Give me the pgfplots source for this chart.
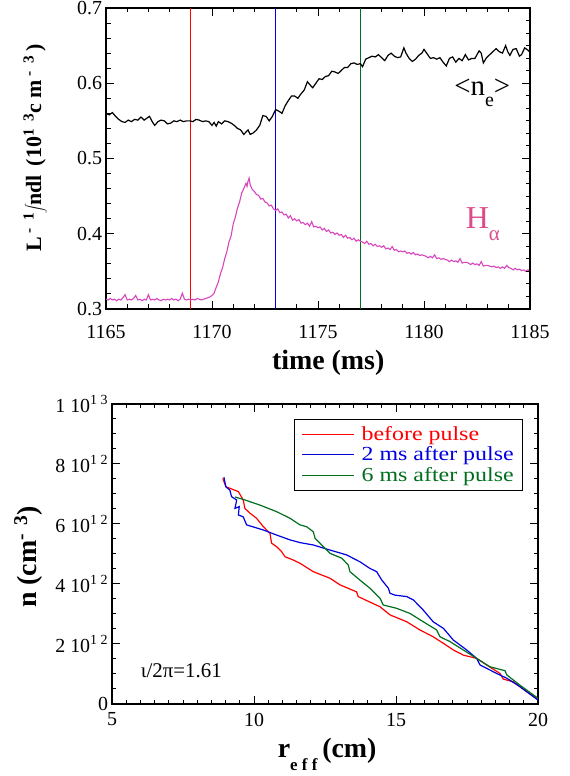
\documentclass[border=0pt]{standalone}
\usepackage{pgfplots}
\pgfplotsset{compat=1.18}
\usepackage{fontspec}
\setmainfont{Liberation Serif}
\definecolor{myred}{RGB}{255,0,0}
\definecolor{myblue}{RGB}{0,0,225}
\definecolor{mygreen}{RGB}{0,110,30}
\definecolor{mypink}{RGB}{215,70,190}
\definecolor{hacol}{RGB}{222,75,140}
\newcommand{\legtxt}[1]{\hspace{5bp}\scalebox{1.2}[1]{#1}}
\begin{document}
\begin{tikzpicture}
\useasboundingbox (0,0) rectangle (570bp,776bp);
\pgfplotsset{
  every axis/.append style={
    scale only axis,
    line width=1.1bp,
    tick style={line width=1bp,black},
    major tick length=8bp,
    minor tick length=4.5bp,
    tick label style={font=\fontsize{20}{24}\selectfont},
    /pgf/number format/assume math mode=true,
    /pgf/number format/1000 sep={},
  }
}
% ---------------- top panel ----------------
\begin{axis}[
  at={(106bp,467bp)}, anchor=south west,
  width=424bp, height=301bp,
  xmin=1165, xmax=1185, ymin=0.3, ymax=0.7,
  xtick={1165,1170,1175,1180,1185},
  minor x tick num=4,
  ytick={0.3,0.4,0.5,0.6,0.7},
  yticklabel style={/pgf/number format/fixed,/pgf/number format/precision=1},
  minor y tick num=4,
  ytick pos=left,
  xticklabel style={yshift=-12bp},
  xlabel={\textbf{time (ms)}},
  xlabel style={font=\fontsize{28}{30}\selectfont, at={(axis description cs:0.524,-0.179)}, anchor=center},
  ylabel={\textbf{L\,\textsuperscript{-\ \ 1}\hspace{-1bp}$\displaystyle\int$\hspace{-2bp}ndl\ \,(10\textsuperscript{1\ \ 3}c\ m\textsuperscript{\ -\ \ 3}\,)}},
  ylabel style={font=\fontsize{22}{24}\selectfont, at={(axis description cs:-0.167,0.535)}, anchor=center, rotate=0},
  clip=true,
]
\addplot[draw=myred, line width=1bp] coordinates {(1169,0.3) (1169,0.7)};
\addplot[draw=myblue, line width=1bp] coordinates {(1173,0.3) (1173,0.7)};
\addplot[draw=mygreen, line width=1bp] coordinates {(1177,0.3) (1177,0.7)};
\addplot[draw=black, line width=1.2bp] table {
1165.0 0.560
1165.15 0.558
1165.3 0.561
1165.45 0.556
1165.6 0.552
1165.75 0.549
1165.9 0.548
1166.05 0.551
1166.2 0.549
1166.35 0.552
1166.5 0.551
1166.65 0.555
1166.8 0.551
1166.95 0.554
1167.05 0.556
1167.2 0.548
1167.3 0.544
1167.45 0.549
1167.6 0.551
1167.75 0.550
1167.9 0.546
1168.05 0.547
1168.2 0.550
1168.35 0.549
1168.5 0.551
1168.65 0.549
1168.8 0.550
1168.95 0.550
1169.1 0.549
1169.25 0.552
1169.4 0.551
1169.55 0.549
1169.7 0.550
1169.85 0.549
1170.0 0.544
1170.1 0.548
1170.2 0.543
1170.3 0.549
1170.45 0.546
1170.6 0.550
1170.75 0.549
1170.9 0.547
1171.05 0.544
1171.2 0.540
1171.35 0.538
1171.5 0.532
1171.6 0.535
1171.7 0.538
1171.8 0.532
1171.95 0.534
1172.1 0.538
1172.25 0.544
1172.4 0.557
1172.55 0.556
1172.7 0.550
1172.85 0.556
1173.0 0.565
1173.15 0.563
1173.3 0.560
1173.45 0.570
1173.6 0.577
1173.75 0.583
1173.9 0.583
1174.05 0.580
1174.2 0.586
1174.35 0.591
1174.5 0.602
1174.65 0.597
1174.75 0.594
1174.9 0.600
1175.05 0.606
1175.2 0.605
1175.35 0.609
1175.5 0.610
1175.65 0.616
1175.8 0.615
1175.95 0.613
1176.1 0.617
1176.25 0.621
1176.4 0.621
1176.55 0.626
1176.7 0.627
1176.85 0.625
1177.0 0.626
1177.1 0.622
1177.25 0.632
1177.4 0.634
1177.55 0.636
1177.7 0.635
1177.85 0.638
1178.0 0.634
1178.15 0.630
1178.3 0.637
1178.45 0.640
1178.6 0.636
1178.75 0.634
1178.9 0.635
1179.05 0.647
1179.15 0.640
1179.3 0.633
1179.45 0.629
1179.6 0.632
1179.75 0.637
1179.9 0.640
1180.0 0.645
1180.15 0.639
1180.3 0.633
1180.45 0.634
1180.6 0.632
1180.75 0.634
1180.9 0.628
1181.05 0.623
1181.2 0.633
1181.35 0.635
1181.5 0.628
1181.65 0.633
1181.8 0.630
1181.95 0.638
1182.1 0.631
1182.25 0.633
1182.4 0.633
1182.6 0.643
1182.7 0.640
1182.8 0.627
1182.95 0.634
1183.1 0.638
1183.25 0.642
1183.4 0.646
1183.55 0.642
1183.7 0.640
1183.85 0.650
1183.95 0.642
1184.05 0.637
1184.2 0.645
1184.35 0.646
1184.5 0.636
1184.6 0.638
1184.75 0.647
1184.9 0.644
1185.0 0.641
};
\addplot[draw=mypink, line width=1.1bp] table {
1165.0 .313
1165.1 .312
1165.2 .314
1165.3 .312
1165.4 .313
1165.5 .311
1165.6 .313
1165.7 .312
1165.8 .315
1165.9 .319
1166.0 .312
1166.1 .313
1166.2 .312
1166.3 .314
1166.4 .318
1166.5 .312
1166.6 .313
1166.7 .311
1166.8 .313
1166.9 .312
1167.0 .319
1167.1 .312
1167.2 .313
1167.3 .312
1167.4 .314
1167.5 .312
1167.6 .311
1167.7 .313
1167.8 .312
1167.9 .313
1168.0 .312
1168.1 .314
1168.2 .312
1168.3 .313
1168.4 .311
1168.5 .313
1168.6 .321
1168.7 .313
1168.8 .312
1168.9 .313
1169.0 .312
1169.1 .313
1169.2 .312
1169.3 .314
1169.4 .313
1169.5 .312
1169.6 .313
1169.7 .314
1169.8 .315
1169.9 .316
1170.0 .318
1170.1 .321
1170.2 .329
1170.3 .336
1170.4 .347
1170.5 .355
1170.6 .367
1170.7 .376
1170.8 .389
1170.9 .397
1171.0 .413
1171.1 .422
1171.2 .434
1171.3 .442
1171.4 .454
1171.5 .460
1171.6 .467
1171.65 .463
1171.7 .470
1171.75 .474
1171.8 .465
1171.9 .459
1172.0 .456
1172.1 .452
1172.2 .451
1172.3 .446
1172.4 .447
1172.5 .442
1172.6 .441
1172.7 .437
1172.8 .438
1172.9 .433
1173.0 .431
1173.1 .433
1173.2 .428
1173.3 .429
1173.4 .425
1173.5 .426
1173.6 .421
1173.7 .424
1173.8 .418
1173.9 .420
1174.0 .417
1174.1 .419
1174.2 .414
1174.3 .415
1174.4 .412
1174.5 .414
1174.6 .410
1174.7 .416
1174.8 .409
1174.9 .410
1175.0 .408
1175.1 .409
1175.2 .405
1175.3 .407
1175.4 .403
1175.5 .405
1175.6 .401
1175.7 .402
1175.8 .399
1175.9 .401
1176.0 .398
1176.1 .399
1176.2 .395
1176.3 .398
1176.4 .394
1176.5 .395
1176.6 .392
1176.7 .394
1176.8 .390
1176.9 .392
1177.0 .390
1177.1 .389
1177.2 .387
1177.3 .390
1177.4 .386
1177.5 .387
1177.6 .384
1177.7 .386
1177.8 .383
1177.9 .384
1178.0 .382
1178.1 .384
1178.2 .380
1178.3 .381
1178.4 .379
1178.5 .383
1178.6 .378
1178.7 .379
1178.8 .376
1178.9 .377
1179.0 .376
1179.1 .377
1179.2 .374
1179.3 .375
1179.4 .373
1179.5 .375
1179.6 .372
1179.7 .373
1179.8 .371
1179.9 .372
1180.0 .371
1180.1 .370
1180.2 .368
1180.3 .370
1180.4 .368
1180.5 .372
1180.6 .367
1180.7 .368
1180.8 .366
1180.9 .367
1181.0 .366
1181.1 .365
1181.2 .363
1181.3 .365
1181.4 .363
1181.5 .364
1181.6 .362
1181.7 .367
1181.8 .361
1181.9 .362
1182.0 .362
1182.1 .361
1182.2 .359
1182.3 .361
1182.4 .359
1182.5 .360
1182.6 .358
1182.7 .363
1182.8 .357
1182.9 .358
1183.0 .358
1183.1 .357
1183.2 .356
1183.3 .357
1183.4 .355
1183.5 .356
1183.6 .354
1183.7 .356
1183.8 .354
1183.9 .358
1184.0 .355
1184.1 .354
1184.2 .352
1184.3 .354
1184.4 .352
1184.5 .353
1184.6 .351
1184.7 .352
1184.8 .350
1184.9 .352
1185.0 .351
};
\node[anchor=base, font=\fontsize{29}{30}\selectfont] at (axis cs:1182.75,0.584) {<n\raisebox{-11bp}{\fontsize{20}{20}\selectfont e}>};
\node[anchor=base west, text=hacol, font=\fontsize{32}{32}\selectfont, inner sep=0pt] at (axis cs:1181.95,0.4076) {H\raisebox{-12bp}{\fontsize{21}{21}\selectfont α}};
\end{axis}
\begin{axis}[
  at={(106bp,467bp)}, anchor=south west,
  width=424bp, height=301bp,
  xmin=1165, xmax=1185, ymin=0.3, ymax=0.7,
  axis y line*=right, axis x line=none,
  ytick={0.3,0.4,0.5,0.6,0.7}, yticklabels={},
  minor y tick num=5,
]
\end{axis}
% ---------------- bottom panel ----------------
\begin{axis}[
  at={(112bp,72bp)}, anchor=south west,
  width=426bp, height=300bp,
  xmin=5, xmax=20, ymin=0, ymax=10,
  xtick={5,10,15,20},
  minor x tick num=9,
  ytick={0,2,4,6,8,10},
  yticklabels={0,2 10\textsuperscript{1 2},4 10\textsuperscript{1 2},6 10\textsuperscript{1 2},8 10\textsuperscript{1 2},1 10\textsuperscript{1 3}},
  minor y tick num=3,
  xticklabel style={yshift=-5bp},
  xlabel={\textbf{r}\raisebox{-13bp}{\fontsize{17}{17}\selectfont\textbf{e f f}}\,\textbf{(cm)}},
  xlabel style={font=\fontsize{28}{30}\selectfont, at={(axis description cs:0.505,-0.10)}, anchor=north},
  ylabel={\textbf{n (cm\textsuperscript{-\ \,3})}},
  ylabel style={font=\fontsize{28}{30}\selectfont, at={(axis description cs:-0.197,0.49)}, anchor=center},
  legend style={at={(0.965,0.95)}, anchor=north east, draw=black, line width=0.8bp,
    font=\fontsize{20}{21}\selectfont, inner xsep=7bp, inner ysep=5bp,
    row sep=1bp},
  legend cell align=left,
  legend image code/.code={\draw[#1, line width=1.2bp] (0bp,0bp) -- (52bp,0bp);},
]
\addplot[draw=myred, line width=1.2bp] table {
8.90 7.52
9.01 7.24
9.15 7.19
9.45 7.08
9.62 6.80
9.68 6.52
9.86 6.36
10.09 6.19
10.33 5.91
10.56 5.69
10.62 5.36
10.80 5.24
10.97 5.08
11.09 4.91
11.38 4.80
11.62 4.69
12.09 4.41
12.68 4.19
13.03 3.97
13.61 3.74
13.67 3.58
14.44 3.24
14.79 2.97
15.38 2.74
15.84 2.47
16.31 2.24
16.67 2.02
17.02 1.80
17.37 1.63
17.84 1.52
18.19 1.30
18.66 1.02
18.78 0.83
19.13 0.74
19.60 0.41
20.00 0.16
};
\addplot[draw=myblue, line width=1.2bp] table {
8.94 7.56
9.01 7.24
9.15 7.13
9.21 6.91
9.39 6.80
9.33 6.52
9.48 6.58
9.45 6.30
9.62 6.24
9.74 5.97
10.33 5.80
10.80 5.63
11.27 5.47
11.62 5.38
12.09 5.30
12.68 5.13
13.26 4.97
13.73 4.74
14.08 4.52
14.32 4.41
14.50 4.13
14.73 3.86
14.79 3.69
14.96 3.63
15.38 3.58
15.61 3.47
15.96 3.13
16.31 2.74
16.67 2.52
17.02 2.13
17.49 1.80
17.84 1.52
17.96 1.30
18.25 1.16
18.54 1.02
18.90 0.86
19.36 0.58
20.00 0.13
};
\addplot[draw=mygreen, line width=1.2bp] table {
9.33 6.90
9.62 6.82
10.21 6.63
10.80 6.41
11.27 6.19
11.62 5.97
11.85 5.91
12.09 5.74
12.15 5.52
12.32 5.36
12.68 5.02
13.09 4.86
13.32 4.63
13.38 4.41
13.73 4.13
14.08 3.86
14.44 3.52
14.55 3.30
15.02 3.19
15.49 3.02
15.96 2.74
16.43 2.47
16.55 2.24
16.90 2.08
17.37 1.80
17.84 1.52
18.31 1.24
18.84 1.11
18.90 0.97
19.36 0.63
20.00 0.19
};
\legend{\legtxt{\textcolor{myred}{before pulse}},\legtxt{\textcolor{myblue}{2 ms after pulse}},\legtxt{\textcolor{mygreen}{6 ms after pulse}}}
\node[anchor=base west, font=\fontsize{21}{21}\selectfont, inner sep=0pt] at (axis cs:6.0,0.9) {ι/2π=1.61};
\end{axis}
\end{tikzpicture}
\end{document}
